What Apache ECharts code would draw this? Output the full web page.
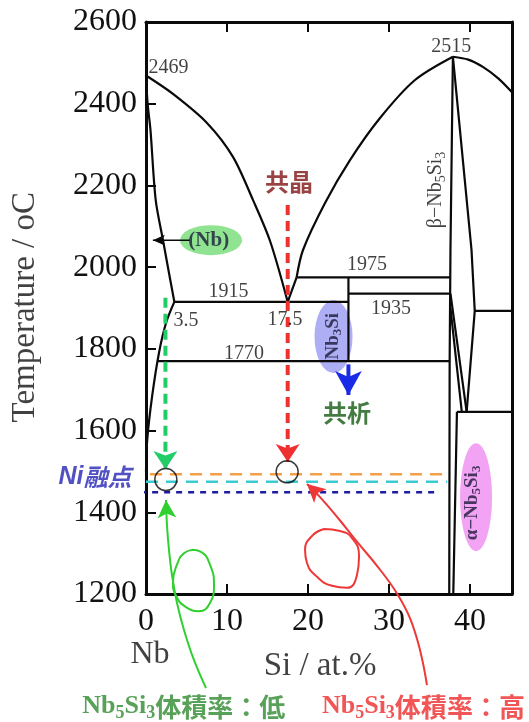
<!DOCTYPE html>
<html><head><meta charset="utf-8">
<script src="https://cdn.jsdelivr.net/npm/echarts@6/dist/echarts.min.js"></script>
<style>html,body{margin:0;padding:0;background:#fff}#c{width:529px;height:722px}</style>
</head><body><div id="c"></div>
<script>
// ---------------- data (Si at.% , Temperature °C) ----------------
const xTicks = [0, 10, 20, 30, 40];
const yTicks = [1200, 1400, 1600, 1800, 2000, 2200, 2400, 2600];
const liquidusNb = [[0,2469],[3.33,2424],[7.53,2353],[10.74,2270],[13.22,2164],[15.32,2064],[17.5,1915]];
const solidusNb = [[0,2469],[0.2,2400],[0.55,2336],[1.2,2164],[2.1,2066],[2.8,1990],[3.5,1915]];
const solvusNb = [[3.5,1915],[2.5,1865],[1.6,1790],[0.75,1683],[0.15,1577],[0,1500]];
const eutArm = [[17.5,1915],[18.6,1975]];
const liquidusSi = [[18.6,1975],[19.39,2042],[22.11,2157],[25.19,2262],[28.9,2365],[33.22,2458],[37.9,2515]];
const liquidusHi = [[37.9,2515],[39.8,2508],[41.6,2490],[43.5,2462],[45.2,2428]];
const iso1915 = [[3.5,1915],[25,1915]];
const iso1770 = [[1.37,1770],[37.5,1770]];
const iso1975 = [[18.6,1975],[37.6,1975]];
const iso1935 = [[25,1935],[37.6,1935]];
const nb3siLine = [[25,1975],[25,1770]];
const beta5Left = [[37.9,2515],[37.6,2042],[37.5,1770],[37.45,1200]];
const beta5Right = [[37.9,2515],[40.2,2042],[40.6,1893],[39.6,1646]];
const trans1 = [[37.6,1935],[39.6,1646]];
const trans2 = [[37.6,1900],[39.0,1646]];
const iso1893 = [[40.6,1893],[45.2,1893]];
const iso1646 = [[38.4,1646],[45.2,1646]];
const alpha5 = [[38.4,1646],[37.95,1200]];
// guides
const redGuide = [[17.5,2152],[17.5,1523]];
const greenGuide = [[2.4,1925],[2.4,1506]];
const orangeLine = [[0.5,1493],[37.4,1493]];
const cyanLine = [[0,1475],[37.2,1475]];
const niLine = [[-11.1,1449],[35.7,1449]];
const circles = [[17.43,1499],[2.45,1480]];
const nbArrow = [[5.4,2066],[0.85,2066]];
const blueArrow = [[25,1762],[25,1687]];
const greenCurve = [[7.41,970],[5.93,1038],[4.69,1112],[3.83,1178],[3.21,1246],[2.84,1308],[2.59,1369],[2.47,1430]];
const greenLoop = [[5.68,1308],[6.79,1303],[7.78,1278],[8.4,1222],[7.9,1178],[6.55,1158],[4.94,1168],[3.71,1195],[3.33,1229],[3.95,1278],[4.69,1300],[5.68,1308]];
const redCurve = [[34.7,977],[33.84,1063],[32.6,1141],[30.88,1205],[28.65,1266],[26.18,1325],[23.71,1386],[21.49,1437],[19.88,1469]];
const redLoop = [[21.98,1359],[23.96,1354],[25.44,1337],[26.31,1293],[26.06,1247],[24.82,1215],[22.97,1220],[21.12,1242],[19.88,1276],[19.64,1308],[20.5,1342],[21.98,1359]];
const valueLabels = [['2469',[2.78,2487]],['2515',[37.7,2540]],['1915',[10.19,1940]],['3.5',[4.94,1868]],
  ['17.5',[17.17,1871]],['1975',[27.29,2005]],['1935',[30.26,1899]],['1770',[12.1,1789]]];

// ---------------- helpers ----------------
const SERIF = 'Liberation Serif';
const CJK = 'Noto Sans CJK JP';
const INK = '#0a0a0a';
function ln(data, color, width, opts) {
  return Object.assign({
    type: 'line', data: data, symbol: 'none', showSymbol: true, clip: false, silent: true,
    animation: false, z: 3, lineStyle: { color: color, width: width, type: 'solid', cap: 'butt' }
  }, opts || {});
}
function withArrow(pts, rot, size, color) {
  return pts.map((p, i) => i === pts.length - 1
    ? { value: p, symbol: 'arrow', symbolSize: size, symbolRotate: rot, itemStyle: { color: color } }
    : { value: p });
}
function txt(pos, formatter, style) {
  return { value: pos, label: Object.assign({ show: true, position: 'inside', formatter: formatter,
    align: 'center', verticalAlign: 'middle' }, style) };
}
function subRich(size, color, weight, cjkColor) {
  const lh = Math.round(size * 1.2);
  const ss = Math.round(size * 0.68);
  return {
    n: { fontFamily: SERIF, fontSize: size, fontWeight: weight, color: color, lineHeight: lh },
    s: { fontFamily: SERIF, fontSize: ss, fontWeight: weight, color: color, lineHeight: ss, padding: [lh - ss, 0, 0, 0] },
    c: { fontFamily: CJK, fontSize: size, fontWeight: 'bold', color: cjkColor || color, lineHeight: lh }
  };
}

const series = [];
// ellipses
series.push({
  type: 'scatter', silent: true, animation: false, z: 1, clip: false,
  data: [
    { value: [8.03, 2066], symbol: 'circle', symbolSize: [62, 30], itemStyle: { color: '#74dc74' } },
    { value: [23.16, 1830], symbol: 'circle', symbolSize: [38, 73], itemStyle: { color: '#9a9af2' } },
    { value: [40.76, 1437], symbol: 'circle', symbolSize: [32, 108], itemStyle: { color: '#f08cf0' } }
  ]
});
// phase boundaries
[liquidusNb, liquidusSi, liquidusHi].forEach(d => series.push(ln(d, INK, 2.2, { smooth: 0.3 })));
[solidusNb, solvusNb].forEach(d => series.push(ln(d, INK, 2.2, { smooth: 0.3 })));
[eutArm, iso1915, iso1770, iso1975, iso1935, nb3siLine, beta5Left, beta5Right, trans1, trans2, iso1893, iso1646, alpha5]
  .forEach(d => series.push(ln(d, INK, 2.2)));
// horizontal reference lines
series.push(ln(orangeLine, '#f4a04a', 2.5, { lineStyle: { color: '#f4a04a', width: 2.5, type: [12, 8] } }));
series.push(ln(cyanLine, '#3ccad2', 2.5, { lineStyle: { color: '#3ccad2', width: 2.5, type: [12, 8] } }));
series.push(ln(niLine, '#1c1ca6', 2.5, { lineStyle: { color: '#1c1ca6', width: 2.5, type: [6, 6] } }));
// dashed vertical arrows
series.push(ln(withArrow(redGuide, 180, [18, 18], '#ee3030'), '#ee3030', 4, { z: 6, lineStyle: { color: '#ee3030', width: 4, type: [10, 6] } }));
series.push(ln(withArrow(greenGuide, 180, [18, 18], '#22cc66'), '#22cc66', 4, { z: 6, lineStyle: { color: '#22cc66', width: 4, type: [10, 6] } }));
series.push(ln(withArrow(nbArrow, 90, [8, 12], INK), INK, 1.5, { z: 6 }));
series.push(ln(withArrow(blueArrow, 180, [20, 24], '#1a2ae6'), '#1a2ae6', 4, { z: 6 }));
// curly arrows
series.push(ln(withArrow(greenCurve, 3, [14, 18], '#30d030'), '#30d030', 2, { smooth: 0.4, z: 6 }));
series.push(ln(greenLoop, '#30d030', 2, { smooth: 0.5, z: 6 }));
series.push(ln(withArrow(redCurve, 48, [14, 18], '#ee3838'), '#ee3838', 2, { smooth: 0.4, z: 6 }));
series.push(ln(redLoop, '#ee3838', 2, { smooth: 0.5, z: 6 }));
// circles
series.push({
  type: 'scatter', silent: true, animation: false, z: 7, clip: false, symbol: 'circle', symbolSize: 22,
  itemStyle: { color: 'rgba(0,0,0,0)', borderColor: INK, borderWidth: 1.5 },
  data: circles
});
// texts
const texts = valueLabels.map(v => txt(v[1], v[0], { fontFamily: SERIF, fontSize: 20, color: '#111' }));
texts.push(txt([35.8, 2189], '{n|β−Nb}{s|5}{n|Si}{s|3}', { rotate: 90, rich: subRich(20, '#111', 'normal') }));
texts.push(txt([7.75, 2066], '(Nb)', { fontFamily: SERIF, fontSize: 21, fontWeight: 'bold', color: '#1a1a3a' }));
texts.push(txt([23.1, 1831], '{n|Nb}{s|3}{n|Si}', { rotate: 90, rich: subRich(19, '#1a1a3a', 'bold') }));
texts.push(txt([40.22, 1423], '{n|α−Nb}{s|5}{n|Si}{s|3}', { rotate: 90, rich: subRich(19, '#1a1a3a', 'bold') }));
texts.push(txt([17.66, 2209], '共晶', { fontFamily: CJK, fontSize: 24, fontWeight: 'bold', color: '#7f1414' }));
texts.push(txt([24.82, 1643], '共析', { fontFamily: CJK, fontSize: 24, fontWeight: 'bold', color: '#145a14' }));
texts.push(txt([-6.3, 1487], '{a|Ni}{b|融点}', { rich: {
  a: { fontFamily: 'Liberation Sans', fontSize: 25, fontStyle: 'italic', fontWeight: 'bold', color: '#2626b4' },
  b: { fontFamily: CJK, fontSize: 24, fontStyle: 'italic', fontWeight: 'bold', color: '#2626b4' } } }));
texts.push(txt([4.66, 924], '{n|Nb}{s|5}{n|Si}{s|3}{c|体積率：低}', { rich: subRich(26, '#2e8a2e', 'bold') }));
texts.push(txt([34.26, 924], '{n|Nb}{s|5}{n|Si}{s|3}{c|体積率：高}', { rich: subRich(26, '#ee2a2a', 'bold') }));
texts.push(txt([0.49, 1051], 'Nb', { fontFamily: SERIF, fontSize: 32, color: '#111' }));
texts.push(txt([21.49, 1022], 'Si / at.%', { fontFamily: SERIF, fontSize: 33, color: '#111' }));
texts.push(txt([-14.94, 1902], 'Temperature / oC', { fontFamily: SERIF, fontSize: 33, color: '#111', rotate: 90 }));
series.push({ type: 'scatter', silent: true, animation: false, z: 8, clip: false, symbolSize: 0, data: texts });

const axisLine = { show: true, onZero: false, lineStyle: { color: INK, width: 3 } };
const tick = { show: true, inside: true, length: 10, lineStyle: { color: INK, width: 2 } };
const option = {
  animation: false,
  backgroundColor: '#fff',
  grid: { left: 146, right: 17, top: 22, bottom: 128, containLabel: false },
  xAxis: [
    { type: 'value', min: xTicks[0], max: 45.2, interval: 10, position: 'bottom', axisLine: axisLine, axisTick: tick,
      splitLine: { show: false },
      axisLabel: { fontFamily: SERIF, fontSize: 32, color: '#111', margin: 12, showMaxLabel: false,
        formatter: v => (xTicks.indexOf(v) >= 0 ? String(v) : '') } },
    { type: 'value', min: xTicks[0], max: 45.2, interval: 10, position: 'top', axisLine: axisLine, axisTick: tick,
      splitLine: { show: false }, axisLabel: { show: false } }
  ],
  yAxis: [
    { type: 'value', min: yTicks[0], max: yTicks[yTicks.length - 1], interval: 200, position: 'left', axisLine: axisLine,
      axisTick: tick, splitLine: { show: false },
      axisLabel: { fontFamily: SERIF, fontSize: 32, color: '#111', margin: 9, formatter: v => String(v) } },
    { type: 'value', min: yTicks[0], max: yTicks[yTicks.length - 1], interval: 200, position: 'right', axisLine: axisLine,
      axisTick: { show: false }, splitLine: { show: false }, axisLabel: { show: false } }
  ],
  series: series
};
const chart = echarts.init(document.getElementById('c'), null, { renderer: 'canvas' });
chart.setOption(option);
</script></body></html>
